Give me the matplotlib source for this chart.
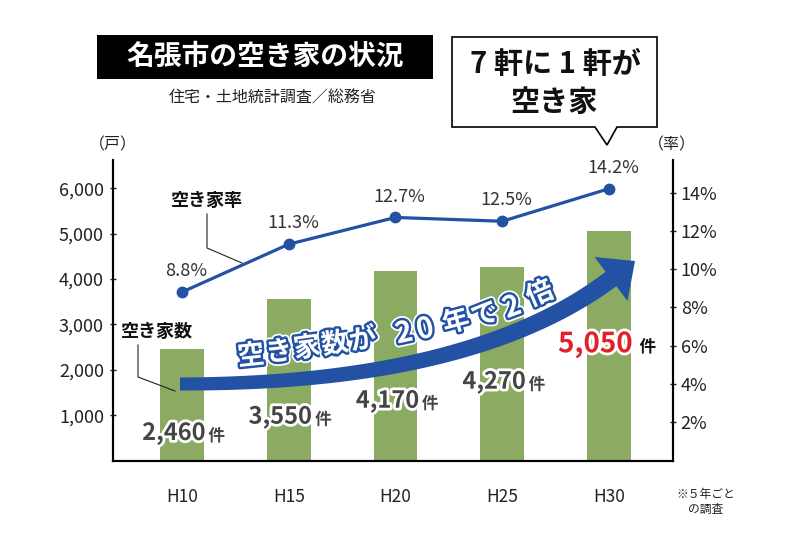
import matplotlib
matplotlib.use('Agg')
import matplotlib.pyplot as plt
import matplotlib.patheffects as pe
from matplotlib.patches import Rectangle, Polygon
from matplotlib.lines import Line2D
import numpy as np

plt.rcParams['font.family'] = ['Noto Sans CJK JP', 'DejaVu Sans']

# ---- data ----
categories = ['H10', 'H15', 'H20', 'H25', 'H30']
vacant_houses = [2460, 3550, 4170, 4270, 5050]
vacancy_rate = [8.8, 11.3, 12.7, 12.5, 14.2]
house_labels = ['2,460', '3,550', '4,170', '4,270', '5,050']
rate_labels = ['8.8%', '11.3%', '12.7%', '12.5%', '14.2%']
left_ticks = [1000, 2000, 3000, 4000, 5000, 6000]
left_tick_labels = ['1,000', '2,000', '3,000', '4,000', '5,000', '6,000']
right_ticks = [2, 4, 6, 8, 10, 12, 14]
right_tick_labels = ['2%', '4%', '6%', '8%', '10%', '12%', '14%']

# label placement (annotation positions, not data)
bar_label_y = [600, 960, 1310, 1730, 2560]

BAR = '#8cab62'
BLUE = '#2352a5'
RED = '#e3202a'
GRAY = '#454545'

fig = plt.figure(figsize=(8, 5.45), dpi=100)
ax = fig.add_axes([0.14125, 0.155, 0.7, 0.5514])
x = np.arange(len(categories))
ax.bar(x, vacant_houses, width=0.41, color=BAR, zorder=2)
ax.set_xlim(-0.646, 4.6)
ax.set_ylim(0, 6620)
ax.set_xticks(x)
ax.set_xticklabels(categories)
ax.tick_params(axis='x', length=0, pad=20, labelsize=12.5, colors='#222222')
ax.set_yticks(left_ticks)
ax.set_yticklabels(left_tick_labels)
ax.tick_params(axis='y', direction='inout', length=5, width=1, labelsize=13,
               pad=4, colors='#222222')
for s in ['left', 'bottom', 'right']:
    ax.spines[s].set_linewidth(1.5)
    ax.spines[s].set_color('black')
ax.spines['top'].set_visible(False)

ax2 = ax.twinx()
ax2.set_ylim(0, 15.7)
ax2.set_yticks(right_ticks)
ax2.set_yticklabels(right_tick_labels)
ax2.tick_params(axis='y', direction='inout', length=5, width=1, labelsize=13,
                pad=3, colors='#222222')
for s in ['left', 'bottom', 'right']:
    ax2.spines[s].set_linewidth(1.5)
    ax2.spines[s].set_color('black')
ax2.spines['top'].set_visible(False)
ax2.plot(x, vacancy_rate, color=BLUE, lw=2.3, marker='o', ms=7.5, zorder=3)
for xi, r, lab in zip(x, vacancy_rate, rate_labels):
    ax2.annotate(lab, (xi, r), xytext=(3, 15), textcoords='offset points',
                 ha='center', va='center', fontsize=13, color='#333333')

# bar value labels
white_edge = [pe.withStroke(linewidth=4, foreground='white')]
for i, (xi, lab, ly) in enumerate(zip(x, house_labels, bar_label_y)):
    last = i == len(x) - 1
    ax2.annotate(lab, (xi, ly * 15.7 / 6620), xytext=(17, 0), textcoords='offset points',
                 ha='right', va='center', fontsize=20 if last else 17,
                 fontweight='bold', color=RED if last else GRAY,
                 path_effects=white_edge, zorder=6)
    ax2.annotate('件', (xi, ly * 15.7 / 6620), xytext=(22 if last else 19, -2),
                 textcoords='offset points', ha='left', va='center', fontsize=12,
                 fontweight='bold', color='#111111' if last else GRAY,
                 path_effects=white_edge, zorder=6)

# ---- overlay in pixel coordinates for decorations ----
ov = fig.add_axes([0, 0, 1, 1], zorder=5)
ov.set_xlim(0, 800)
ov.set_ylim(545, 0)
ov.axis('off')

# title box
ov.add_patch(Rectangle((97, 35), 336, 44, facecolor='black', edgecolor='none'))
ov.text(265, 57, '名張市の空き家の状況', color='white', fontsize=20, fontweight='bold',
        ha='center', va='center')
ov.text(273, 98, '住宅・土地統計調査／総務省', color='#222222', fontsize=11.5,
        ha='center', va='center')

# callout
callout = Polygon([(452, 37), (657, 37), (657, 127), (617, 127), (607, 145),
                   (595, 127), (452, 127)], closed=True, facecolor='white',
                  edgecolor='black', lw=1.2)
ov.add_patch(callout)
ov.text(555, 64, '7 軒に 1 軒が', fontsize=21, fontweight='bold', color='#111111',
        ha='center', va='center')
ov.text(554, 102, '空き家', fontsize=21, fontweight='bold', color='#111111',
        ha='center', va='center')

# axis unit labels
ov.text(113, 145, '（戸）', fontsize=11.5, ha='center', va='center', color='#222222')
ov.text(672, 145, '（率）', fontsize=11.5, ha='center', va='center', color='#222222')
ov.text(706, 502, '※５年ごと\nの調査', fontsize=8.5, ha='center', va='center',
        color='#222222', linespacing=1.2)

# series annotations with leader lines
ov.text(207, 200, '空き家率', fontsize=13, fontweight='bold', ha='center', va='center',
        color='#111111')
ov.add_line(Line2D([207, 207, 242], [214, 248, 263], color='#222222', lw=0.8))
ov.text(157, 331, '空き家数', fontsize=13, fontweight='bold', ha='center', va='center',
        color='#111111')
ov.add_line(Line2D([138, 138, 175], [345, 377, 391], color='#222222', lw=0.8))

# big curved arrow
P0 = np.array([180.0, 384.0])
P1 = np.array([471.0, 384.0])
P2 = np.array([611.0, 279.0])
t = np.linspace(0, 1, 80)[:, None]
pts = (1 - t) ** 2 * P0 + 2 * (1 - t) * t * P1 + t ** 2 * P2
der = 2 * (1 - t) * (P1 - P0) + 2 * t * (P2 - P1)
der = der / np.linalg.norm(der, axis=1, keepdims=True)
nrm = np.column_stack([der[:, 1], -der[:, 0]])
hw = 6.5 + 2.5 * t
up = pts + nrm * hw
lo = pts - nrm * hw
u_end = der[-1]
n_end = nrm[-1]
head_a = P2 + n_end * 27.5
head_b = P2 - n_end * 27.5
tip = P2 + u_end * 30
poly = np.vstack([up, head_a[None], tip[None], head_b[None], lo[::-1]])
ov.add_patch(Polygon(poly, closed=True, facecolor=BLUE, edgecolor='none', zorder=3))

arrow_chars = [('空', 251, 356, 6), ('き', 279, 352, 7), ('家', 307, 348, 8),
               ('数', 335, 344, 9), ('が', 363, 340, 10), ('2', 404, 333, 12),
               ('0', 425, 329, 13), ('年', 456, 322, 15), ('で', 485, 315, 17),
               ('2', 512, 307, 20), ('倍', 540, 294, 23)]
text_fx = [pe.Stroke(linewidth=6, foreground='white'),
           pe.Stroke(linewidth=3.5, foreground=BLUE), pe.Normal()]
for ch, cx, cy, rot in arrow_chars:
    ov.text(cx, cy, ch, fontsize=19.5 if not ch.isdigit() else 21, fontweight='bold',
            color='white', ha='center', va='center', rotation=rot,
            rotation_mode='anchor', path_effects=text_fx, zorder=4)

fig.savefig('out.png', dpi=100)
